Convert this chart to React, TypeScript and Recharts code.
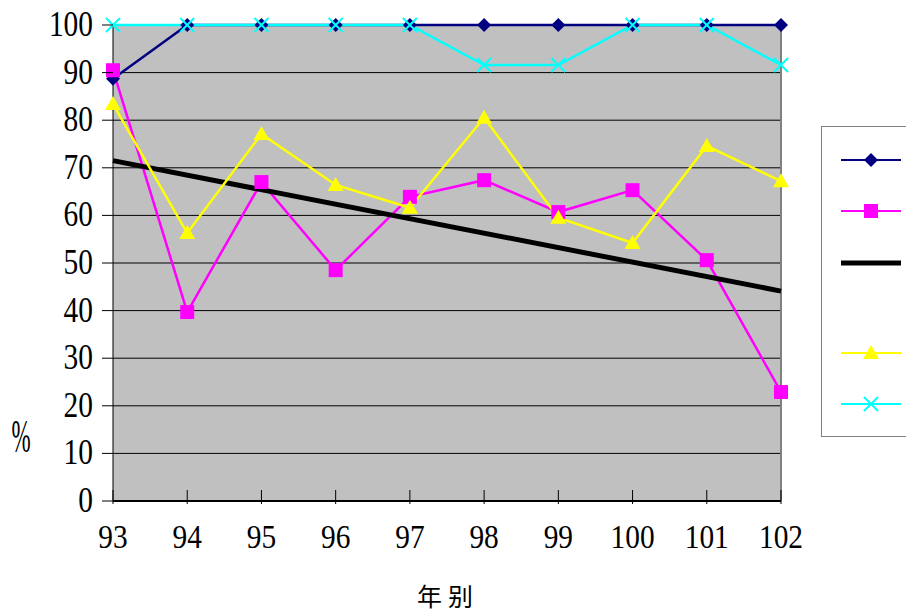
import React from 'react'
import { LineChart, Line, XAxis, YAxis, CartesianGrid, ReferenceLine } from 'recharts'

const years = [93, 94, 95, 96, 97, 98, 99, 100, 101, 102]
const navySeries = [88.7, 100, 100, 100, 100, 100, 100, 100, 100, 100]
const magentaSeries = [90.5, 39.7, 67.0, 48.5, 63.9, 67.4, 60.7, 65.3, 50.6, 22.9]
const trendSeries = [71.5, null, null, null, null, null, null, null, null, 44.1]
const yellowSeries = [83.4, 56.3, 77.1, 66.4, 61.6, 80.5, 59.5, 54.2, 74.6, 67.2]
const cyanSeries = [100, 100, 100, 100, 100, 91.6, 91.6, 100, 100, 91.6]
const yTicks = [0, 10, 20, 30, 40, 50, 60, 70, 80, 90, 100]

const data = years.map((y, i) => ({
  year: y,
  navy: navySeries[i],
  magenta: magentaSeries[i],
  trend: trendSeries[i],
  yellow: yellowSeries[i],
  cyan: cyanSeries[i],
}))

const NAVY = '#000080'
const MAGENTA = '#FF00FF'
const YELLOW = '#FFFF00'
const CYAN = '#00FFFF'

const SERIF = "'Liberation Serif', 'DejaVu Serif', serif"
const digitW = 14.7

const Diamond = ({ cx, cy }: any) =>
  cx == null || cy == null ? null : (
    <path d={`M${cx},${cy - 7} L${cx + 7},${cy} L${cx},${cy + 7} L${cx - 7},${cy} Z`} fill={NAVY} />
  )

const Square = ({ cx, cy }: any) =>
  cx == null || cy == null ? null : <rect x={cx - 7} y={cy - 7} width={14} height={14} fill={MAGENTA} />

const Triangle = ({ cx, cy }: any) =>
  cx == null || cy == null ? null : (
    <path d={`M${cx},${cy - 8} L${cx + 8},${cy + 6} L${cx - 8},${cy + 6} Z`} fill={YELLOW} />
  )

const Cross = ({ cx, cy }: any) =>
  cx == null || cy == null ? null : (
    <path
      d={`M${cx - 7},${cy - 7} L${cx + 7},${cy + 7} M${cx + 7},${cy - 7} L${cx - 7},${cy + 7}`}
      stroke={CYAN}
      strokeWidth={2}
    />
  )

const XTick = ({ x, y, payload }: any) => {
  const s = String(payload.value)
  return (
    <g>
      <line x1={x} y1={y - 11} x2={x} y2={y + 3} stroke="#000" strokeWidth={1} />
      <text
        x={x}
        y={y + 47}
        textAnchor="middle"
        fontFamily={SERIF}
        fontSize={34}
        fill="#000"
        textLength={s.length * digitW}
        lengthAdjust="spacingAndGlyphs"
      >
        {s}
      </text>
    </g>
  )
}

const YTick = ({ x, y, payload }: any) => {
  const s = String(payload.value)
  return (
    <g>
      <line x1={x - 11} y1={y} x2={x} y2={y} stroke="#000" strokeWidth={1} />
      <text
        x={x - 20}
        y={y + 11}
        textAnchor="end"
        fontFamily={SERIF}
        fontSize={35}
        fill="#000"
        textLength={s.length * digitW}
        lengthAdjust="spacingAndGlyphs"
      >
        {s}
      </text>
    </g>
  )
}

const legendItems = [
  { top: 33, color: NAVY, width: 2, marker: 'diamond' },
  { top: 84, color: MAGENTA, width: 2, marker: 'square' },
  { top: 136, color: '#000', width: 5, marker: 'none' },
  { top: 226, color: YELLOW, width: 2, marker: 'triangle' },
  { top: 277, color: CYAN, width: 2, marker: 'cross' },
]

function LegendBox() {
  return (
    <div
      style={{
        position: 'absolute',
        left: 821,
        top: 126,
        width: 160,
        height: 309,
        border: '1px solid #808080',
        background: '#fff',
      }}
    >
      {legendItems.map((it, i) => (
        <svg key={i} width={62} height={20} style={{ position: 'absolute', left: 18, top: it.top - 10 }}>
          <line x1={1} y1={10} x2={61} y2={10} stroke={it.color} strokeWidth={it.width} />
          {it.marker === 'diamond' && <Diamond cx={31} cy={10} />}
          {it.marker === 'square' && <Square cx={31} cy={10} />}
          {it.marker === 'triangle' && <Triangle cx={31} cy={10} />}
          {it.marker === 'cross' && <Cross cx={31} cy={10} />}
        </svg>
      ))}
    </div>
  )
}

export default function App() {
  return (
    <div style={{ position: 'fixed', left: 0, top: 0, width: 906, height: 615, overflow: 'hidden', background: '#fff' }}>
      <LineChart width={906} height={615} data={data} margin={{ top: 25, right: 125, bottom: 0, left: 0 }}>
        <CartesianGrid vertical={false} stroke="#000" fill="#C0C0C0" fillOpacity={1} />
        <XAxis
          dataKey="year"
          height={114}
          tickSize={0}
          tickMargin={0}
          tick={<XTick />}
          axisLine={{ stroke: '#000', strokeWidth: 2 }}
          interval={0}
        />
        <YAxis
          width={113}
          domain={[0, 100]}
          ticks={yTicks}
          tickSize={0}
          tickMargin={0}
          tick={<YTick />}
          axisLine={{ stroke: '#000', strokeWidth: 1 }}
          interval={0}
        />
        <ReferenceLine x={102} stroke="#808080" strokeWidth={2} />
        <Line dataKey="navy" stroke={NAVY} strokeWidth={2.5} dot={<Diamond />} isAnimationActive={false} />
        <Line dataKey="magenta" stroke={MAGENTA} strokeWidth={2.5} dot={<Square />} isAnimationActive={false} />
        <Line dataKey="trend" stroke="#000" strokeWidth={5} dot={false} connectNulls isAnimationActive={false} />
        <Line dataKey="yellow" stroke={YELLOW} strokeWidth={2.5} dot={<Triangle />} isAnimationActive={false} />
        <Line dataKey="cyan" stroke={CYAN} strokeWidth={2.5} dot={<Cross />} isAnimationActive={false} />
      </LineChart>
      <div
        style={{
          position: 'absolute',
          left: 1,
          top: 412,
          width: 40,
          textAlign: 'center',
          fontFamily: SERIF,
          fontSize: 46,
          lineHeight: '50px',
          transform: 'scaleX(0.5)',
          color: '#000',
        }}
      >
        %
      </div>
      <div
        style={{
          position: 'absolute',
          left: 395,
          top: 577,
          width: 100,
          textAlign: 'center',
          fontFamily: "'Noto Sans CJK TC', 'Noto Sans CJK SC', sans-serif",
          fontSize: 25,
          lineHeight: '36px',
          letterSpacing: 6,
          paddingLeft: 6,
          boxSizing: 'border-box',
          color: '#000',
        }}
      >
        年别
      </div>
      <LegendBox />
    </div>
  )
}
